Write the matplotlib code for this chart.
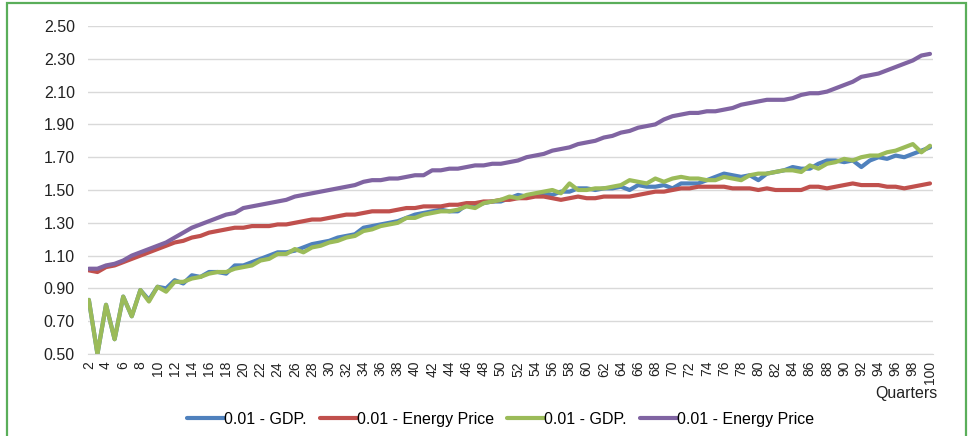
import numpy as np
import matplotlib.pyplot as plt
from matplotlib.patches import Rectangle

plt.rcParams['font.family'] = ['Liberation Sans', 'DejaVu Sans']

quarters = list(range(2, 101))

gdp_a = [0.83, 0.50, 0.80, 0.59, 0.85, 0.73, 0.89, 0.83, 0.91, 0.90,
         0.95, 0.93, 0.98, 0.97, 1.00, 1.00, 0.99, 1.04, 1.04, 1.06,
         1.08, 1.10, 1.12, 1.12, 1.13, 1.15, 1.17, 1.18, 1.19, 1.21,
         1.22, 1.23, 1.27, 1.28, 1.29, 1.30, 1.31, 1.33, 1.35, 1.36,
         1.37, 1.38, 1.37, 1.37, 1.41, 1.40, 1.42, 1.43, 1.43, 1.45,
         1.47, 1.46, 1.47, 1.48, 1.47, 1.49, 1.49, 1.51, 1.51, 1.50,
         1.51, 1.51, 1.52, 1.50, 1.53, 1.52, 1.52, 1.53, 1.51, 1.54,
         1.54, 1.54, 1.56, 1.58, 1.60, 1.59, 1.58, 1.59, 1.56, 1.60,
         1.61, 1.62, 1.64, 1.63, 1.63, 1.66, 1.68, 1.68, 1.67, 1.68,
         1.64, 1.68, 1.70, 1.69, 1.71, 1.70, 1.72, 1.74, 1.76]

energy_a = [1.01, 1.00, 1.03, 1.04, 1.06, 1.08, 1.10, 1.12, 1.14, 1.16,
            1.18, 1.19, 1.21, 1.22, 1.24, 1.25, 1.26, 1.27, 1.27, 1.28,
            1.28, 1.28, 1.29, 1.29, 1.30, 1.31, 1.32, 1.32, 1.33, 1.34,
            1.35, 1.35, 1.36, 1.37, 1.37, 1.37, 1.38, 1.39, 1.39, 1.40,
            1.40, 1.40, 1.41, 1.41, 1.42, 1.42, 1.43, 1.43, 1.44, 1.44,
            1.45, 1.45, 1.46, 1.46, 1.45, 1.44, 1.45, 1.46, 1.45, 1.45,
            1.46, 1.46, 1.46, 1.46, 1.47, 1.48, 1.49, 1.49, 1.50, 1.51,
            1.51, 1.52, 1.52, 1.52, 1.52, 1.51, 1.51, 1.51, 1.50, 1.51,
            1.50, 1.50, 1.50, 1.50, 1.52, 1.52, 1.51, 1.52, 1.53, 1.54,
            1.53, 1.53, 1.53, 1.52, 1.52, 1.51, 1.52, 1.53, 1.54]

gdp_b = [0.83, 0.50, 0.80, 0.59, 0.85, 0.73, 0.89, 0.82, 0.91, 0.88,
         0.94, 0.94, 0.96, 0.97, 0.99, 1.00, 1.00, 1.02, 1.03, 1.04,
         1.07, 1.08, 1.11, 1.11, 1.14, 1.12, 1.15, 1.16, 1.18, 1.19,
         1.21, 1.22, 1.25, 1.26, 1.28, 1.29, 1.30, 1.33, 1.33, 1.35,
         1.36, 1.37, 1.37, 1.38, 1.40, 1.39, 1.42, 1.43, 1.44, 1.46,
         1.45, 1.47, 1.48, 1.49, 1.50, 1.48, 1.54, 1.50, 1.50, 1.51,
         1.51, 1.52, 1.53, 1.56, 1.55, 1.54, 1.57, 1.55, 1.57, 1.58,
         1.57, 1.57, 1.56, 1.56, 1.58, 1.57, 1.56, 1.59, 1.60, 1.60,
         1.61, 1.62, 1.62, 1.61, 1.65, 1.63, 1.66, 1.67, 1.69, 1.68,
         1.70, 1.71, 1.71, 1.73, 1.74, 1.76, 1.78, 1.73, 1.77]

energy_b = [1.02, 1.02, 1.04, 1.05, 1.07, 1.10, 1.12, 1.14, 1.16, 1.18,
            1.21, 1.24, 1.27, 1.29, 1.31, 1.33, 1.35, 1.36, 1.39, 1.40,
            1.41, 1.42, 1.43, 1.44, 1.46, 1.47, 1.48, 1.49, 1.50, 1.51,
            1.52, 1.53, 1.55, 1.56, 1.56, 1.57, 1.57, 1.58, 1.59, 1.59,
            1.62, 1.62, 1.63, 1.63, 1.64, 1.65, 1.65, 1.66, 1.66, 1.67,
            1.68, 1.70, 1.71, 1.72, 1.74, 1.75, 1.76, 1.78, 1.79, 1.80,
            1.82, 1.83, 1.85, 1.86, 1.88, 1.89, 1.90, 1.93, 1.95, 1.96,
            1.97, 1.97, 1.98, 1.98, 1.99, 2.00, 2.02, 2.03, 2.04, 2.05,
            2.05, 2.05, 2.06, 2.08, 2.09, 2.09, 2.10, 2.12, 2.14, 2.16,
            2.19, 2.20, 2.21, 2.23, 2.25, 2.27, 2.29, 2.32, 2.33]

labels = ["0.01 - GDP.", "0.01 - Energy Price", "0.01 - GDP.", "0.01 - Energy Price"]
colors = ["#4F81BD", "#C0504D", "#9BBB59", "#8064A2"]

fig = plt.figure(figsize=(9.71, 4.36), dpi=100)
ax = fig.add_axes([88 / 971, 1 - 354 / 436, 845 / 971, 328 / 436])

for ys, lab, c in zip([gdp_a, energy_a, gdp_b, energy_b], labels, colors):
    ax.plot(quarters, ys, color=c, lw=3.0, label=lab, solid_capstyle="round")

ax.set_xlim(1.9, 100.35)
ax.set_ylim(0.5, 2.5)
ax.set_yticks(np.arange(0.5, 2.51, 0.2))
ax.set_yticklabels([f"{v:.2f}" for v in np.arange(0.5, 2.51, 0.2)])
ax.set_xticks(quarters[::2])
ax.set_xticklabels([str(q) for q in quarters[::2]], rotation=90)
ax.grid(axis="y", color="#D9D9D9", lw=1.0)
ax.set_axisbelow(True)
for s in ["left", "right", "top"]:
    ax.spines[s].set_visible(False)
ax.spines["bottom"].set_color("#D9D9D9")
ax.tick_params(length=0, colors="#222222")
ax.tick_params(axis="y", pad=9.5, labelsize=11.5)
ax.tick_params(axis="x", pad=5, labelsize=10)

fig.text(0.965, 1 - 393 / 436, "Quarters", ha="right", va="center", fontsize=11.5, color="#222222")

fig.legend(loc="center", bbox_to_anchor=(0.5155, 1 - 419 / 436), ncol=4, frameon=False,
           fontsize=11.5, handlelength=2.3, handletextpad=0.0, columnspacing=0.85)

fig.add_artist(Rectangle((7 / 971, -0.02), 959 / 971, 1 - 3 / 436 + 0.02,
                         transform=fig.transFigure, fill=False,
                         edgecolor="#5AAE5A", lw=1.6))

fig.savefig("out.png", dpi=100)
